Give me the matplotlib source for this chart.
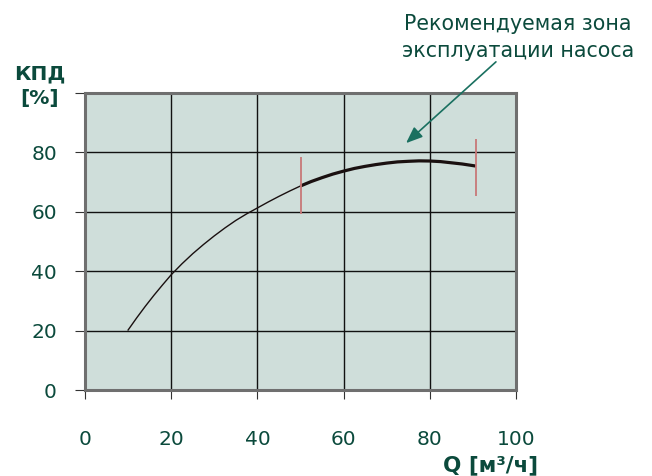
import matplotlib.pyplot as plt

# КПД curve
flow = [10, 12, 14, 16, 18, 20, 22.5, 25, 27.5, 30, 32.5, 35, 37.5, 40, 42.5, 45, 47.5,
        50, 52.5, 55, 57.5, 60, 62.5, 65, 67.5, 70, 72.5, 75, 77.5, 80, 82.5, 85, 87.5, 90.7]
eff = [20.2, 24.3, 28.2, 31.9, 35.4, 38.8, 42.5, 45.9, 49.0, 51.9, 54.6, 57.1, 59.3, 61.3, 63.3, 65.2, 67.0,
       68.7, 70.2, 71.5, 72.7, 73.7, 74.6, 75.3, 75.9, 76.4, 76.8, 77.0, 77.15, 77.1, 76.9, 76.5, 76.1, 75.4]
zone_start = 50
zone_marks_x = [50, 90.7]
zone_marks_lo = [59.4, 65.3]
zone_marks_hi = [78.4, 84.6]

xticks = [0, 20, 40, 60, 80, 100]
yticks = [0, 20, 40, 60, 80, 100]
ylabels = ['0', '20', '40', '60', '80', '']

text_col = '#0b4a3c'
plt.rcParams['font.family'] = ['DejaVu Sans']

fig = plt.figure(figsize=(6.52, 4.76), dpi=100)
ax = fig.add_axes([85/652, 1 - 390/476, 431/652, 297/476])
ax.set_facecolor('#cfdeda')

ax.set_xlim(0, 100)
ax.set_ylim(0, 100)
ax.set_xticks(xticks)
ax.set_yticks(yticks)
ax.set_yticklabels(ylabels)
ax.grid(True, color='#111111', linewidth=1.0)
ax.set_axisbelow(True)
for s in ax.spines.values():
    s.set_color('#6f6f6f')
    s.set_linewidth(2.2)
ax.tick_params(axis='x', length=6.5, width=0.8, pad=22, labelsize=14.5, labelcolor=text_col, color='#333333')
ax.tick_params(axis='y', length=7.2, width=0.8, pad=13, labelsize=14.5, labelcolor=text_col, color='#333333')

# thin part of the curve, thick part in the recommended zone
n_thin = sum(1 for q in flow if q <= zone_start)
ax.plot(flow[:n_thin], eff[:n_thin], color='#1a1010', linewidth=1.0, zorder=3)
ax.plot(flow[n_thin - 1:], eff[n_thin - 1:], color='#1a1010', linewidth=2.3, zorder=3, solid_capstyle='butt')
ax.vlines(zone_marks_x, zone_marks_lo, zone_marks_hi, color='#c87878', linewidth=1.3, zorder=4)

ax.annotate('', xy=(404/652, 1 - 145/476), xytext=(498/652, 1 - 60/476),
            xycoords='figure fraction', textcoords='figure fraction',
            arrowprops=dict(arrowstyle='-|>,head_length=1.0,head_width=0.4', color='#1a7060', lw=1.2))
fig.text(518/652, 1 - 37.5/476, 'Рекомендуемая зона\nэксплуатации насоса', ha='center', va='center',
         fontsize=14.8, color=text_col, linespacing=1.4)

fig.text(40/652, 1 - 86/476, 'КПД\n[%]', ha='center', va='center', fontsize=14.5,
         fontweight='bold', color=text_col, linespacing=1.4)
fig.text(491/652, 1 - 465/476, 'Q [м³/ч]', ha='center', va='center', fontsize=15.5,
         fontweight='bold', color=text_col)

fig.savefig('out.png', dpi=100)
